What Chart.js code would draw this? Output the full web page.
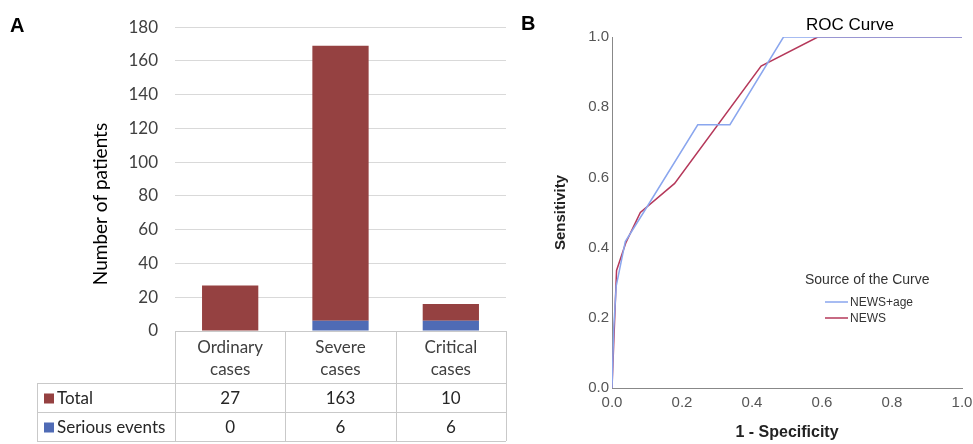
<!DOCTYPE html>
<html>
<head>
<meta charset="utf-8">
<script src="https://cdn.jsdelivr.net/npm/chart.js@4.4.1/dist/chart.umd.min.js"></script>
<style>
  html, body { margin:0; padding:0; background:#fff; }
  #wrap { position:relative; width:973px; height:444px; overflow:hidden; }
  #cA { position:absolute; left:0; top:0; }
  #cB { position:absolute; left:520px; top:0; }
  .lbl { position:absolute; font-family:"Liberation Sans", Arial, sans-serif; font-weight:bold; font-size:20px; color:#000; }
</style>
</head>
<body>
<div id="wrap">
  <canvas id="cA" width="520" height="444"></canvas>
  <canvas id="cB" width="453" height="444"></canvas>
  <div class="lbl" style="left:10px; top:14px;">A</div>
  <div class="lbl" style="left:521px; top:12px;">B</div>
</div>
<script>
// ---------- Panel A data ----------
const categories = [["Ordinary", "cases"], ["Severe", "cases"], ["Critical", "cases"]];
const totalValues = [27, 163, 10];
const seriousValues = [0, 6, 6];
const yTicksA = [0, 20, 40, 60, 80, 100, 120, 140, 160, 180];

// ---------- Panel B data ----------
const newsAgeFpr = [0, 0.005, 0.012, 0.038, 0.09, 0.245, 0.337, 0.49, 1.0];
const newsAgeTpr = [0, 0.17, 0.29, 0.417, 0.50, 0.75, 0.75, 1.0, 1.0];
const newsFpr = [0, 0.013, 0.04, 0.081, 0.179, 0.426, 0.588, 1.0];
const newsTpr = [0, 0.335, 0.415, 0.50, 0.583, 0.917, 1.0, 1.0];
const rocTicks = [0, 0.2, 0.4, 0.6, 0.8, 1.0];

const RED = '#954141', BLUE = '#4f6bb5';
const fontA = 'Lato, "Open Sans", sans-serif';
const fontB = '"Liberation Sans", Arial, sans-serif';

// table + axis title plugin for panel A
const tablePlugin = {
  id: 'dataTable',
  afterDraw(chart) {
    const ctx = chart.ctx;
    const xs = chart.scales.x;
    const area = chart.chartArea;
    const top = area.bottom;
    const hdrBottom = xs.bottom;
    const end = chart.height - 3;
    const rowH = (end - hdrBottom) / 2;
    const leftCol = 37;
    const n = chart.data.labels.length;
    const cw = (area.right - area.left) / n;
    ctx.save();
    ctx.strokeStyle = '#c9c9c9';
    ctx.lineWidth = 1;
    ctx.beginPath();
    for (let i = 0; i <= n; i++) {
      const x = Math.round(area.left + i * cw) + 0.5;
      ctx.moveTo(x, top); ctx.lineTo(x, end);
    }
    ctx.moveTo(leftCol + 0.5, hdrBottom); ctx.lineTo(leftCol + 0.5, end);
    [hdrBottom, hdrBottom + rowH, end].forEach(y => {
      const yy = Math.round(y) + 0.5;
      ctx.moveTo(leftCol, yy); ctx.lineTo(area.right, yy);
    });
    ctx.stroke();

    const rows = [
      { name: 'Total', color: RED, vals: totalValues },
      { name: 'Serious events', color: BLUE, vals: seriousValues }
    ];
    ctx.font = '17px ' + fontA;
    ctx.textBaseline = 'middle';
    rows.forEach((r, ri) => {
      const cy = hdrBottom + rowH * ri + rowH / 2 + 1;
      ctx.fillStyle = r.color;
      ctx.fillRect(leftCol + 7, cy - 5, 10, 10);
      ctx.fillStyle = '#262626';
      ctx.textAlign = 'left';
      ctx.fillText(r.name, leftCol + 20, cy);
      ctx.textAlign = 'center';
      r.vals.forEach((v, i) => {
        ctx.fillText(String(v), xs.getPixelForTick(i), cy);
      });
    });
    // y axis title
    ctx.translate(101, 204);
    ctx.rotate(-Math.PI / 2);
    ctx.fillStyle = '#000';
    ctx.font = '19px ' + fontA;
    ctx.textAlign = 'center';
    ctx.fillText('Number of patients', 0, 0);
    ctx.restore();
  }
};

new Chart(document.getElementById('cA'), {
  type: 'bar',
  data: {
    labels: categories,
    datasets: [
      { label: 'Serious events', data: seriousValues, backgroundColor: BLUE, barPercentage: 0.51, categoryPercentage: 1 },
      { label: 'Total', data: totalValues, backgroundColor: RED, barPercentage: 0.51, categoryPercentage: 1 }
    ]
  },
  options: {
    responsive: false,
    animation: false,
    events: [],
    layout: { padding: { left: 84, right: 14, top: 17, bottom: 61 } },
    plugins: { legend: { display: false }, tooltip: { enabled: false } },
    scales: {
      x: {
        stacked: true,
        grid: { display: false, drawTicks: false },
        border: { display: true, color: '#c9c9c9' },
        ticks: { color: '#404040', font: { family: fontA, size: 17, lineHeight: 1.3 }, padding: 5, maxRotation: 0 },
        afterFit(s) { s.height = 52; }
      },
      y: {
        stacked: true,
        min: 0, max: 180,
        afterBuildTicks(s) { s.ticks = yTicksA.map(v => ({ value: v })); },
        grid: { color: '#d9d9d9', drawTicks: false },
        border: { display: false },
        ticks: { color: '#404040', font: { family: fontA, size: 17 }, padding: 17 },
        afterFit(s) { s.width = 91; }
      }
    }
  },
  plugins: [tablePlugin]
});

// ---------- Panel B ----------
const LBLUE = '#8aa6ee', CRIMSON = '#b5385a';
const toPts = (xs, ys) => xs.map((x, i) => ({ x: x, y: ys[i] }));

const rocDecor = {
  id: 'rocDecor',
  afterDraw(chart) {
    const ctx = chart.ctx;
    ctx.save();
    ctx.fillStyle = '#000';
    ctx.font = '17px ' + fontB;
    ctx.textAlign = 'center';
    ctx.textBaseline = 'middle';
    ctx.fillText('ROC Curve', 330, 25);
    ctx.fillStyle = '#333';
    ctx.font = '14px ' + fontB;
    ctx.textAlign = 'left';
    ctx.fillText('Source of the Curve', 285, 280);
    ctx.font = '12px ' + fontB;
    chart.data.datasets.forEach((d, i) => {
      const y = 302 + i * 16;
      ctx.strokeStyle = d.borderColor;
      ctx.lineWidth = 1.5;
      ctx.beginPath();
      ctx.moveTo(305, y); ctx.lineTo(328, y);
      ctx.stroke();
      ctx.fillStyle = '#333';
      ctx.fillText(d.label, 330, y + 1);
    });
    ctx.restore();
  }
};

new Chart(document.getElementById('cB'), {
  type: 'scatter',
  data: {
    datasets: [
      { label: 'NEWS+age', data: toPts(newsAgeFpr, newsAgeTpr), showLine: true, borderColor: LBLUE, borderWidth: 1.5, pointRadius: 0, fill: false, tension: 0 },
      { label: 'NEWS', data: toPts(newsFpr, newsTpr), showLine: true, borderColor: CRIMSON, borderWidth: 1.5, pointRadius: 0, fill: false, tension: 0 }
    ]
  },
  options: {
    responsive: false,
    animation: false,
    events: [],
    layout: { padding: { left: 28, right: 11, top: 37, bottom: 0 } },
    plugins: { legend: { display: false }, tooltip: { enabled: false } },
    scales: {
      x: {
        type: 'linear', min: 0, max: 1,
        afterBuildTicks(s) { s.ticks = rocTicks.map(v => ({ value: v })); },
        grid: { display: false, drawTicks: false },
        border: { display: true, color: '#888', width: 1 },
        ticks: { color: '#555', font: { family: fontB, size: 15 }, padding: 6, callback: v => Number(v).toFixed(1), maxRotation: 0 },
        title: { display: true, text: '1 - Specificity', color: '#222', font: { family: fontB, size: 16, weight: 'bold' }, padding: 2 },
        afterFit(s) { s.height = 56; s.paddingLeft = 0; s.paddingRight = 0; }
      },
      y: {
        type: 'linear', min: 0, max: 1,
        afterBuildTicks(s) { s.ticks = rocTicks.map(v => ({ value: v })); },
        grid: { display: false, drawTicks: false },
        border: { display: true, color: '#888', width: 1 },
        ticks: { color: '#555', font: { family: fontB, size: 15 }, padding: 3, callback: v => Number(v).toFixed(1) },
        title: { display: true, text: 'Sensitivity', color: '#222', font: { family: fontB, size: 15, weight: 'bold' }, padding: 4 },
        afterFit(s) { s.width = 64; s.paddingTop = 0; s.paddingBottom = 0; }
      }
    }
  },
  plugins: [rocDecor]
});
</script>
</body>
</html>
